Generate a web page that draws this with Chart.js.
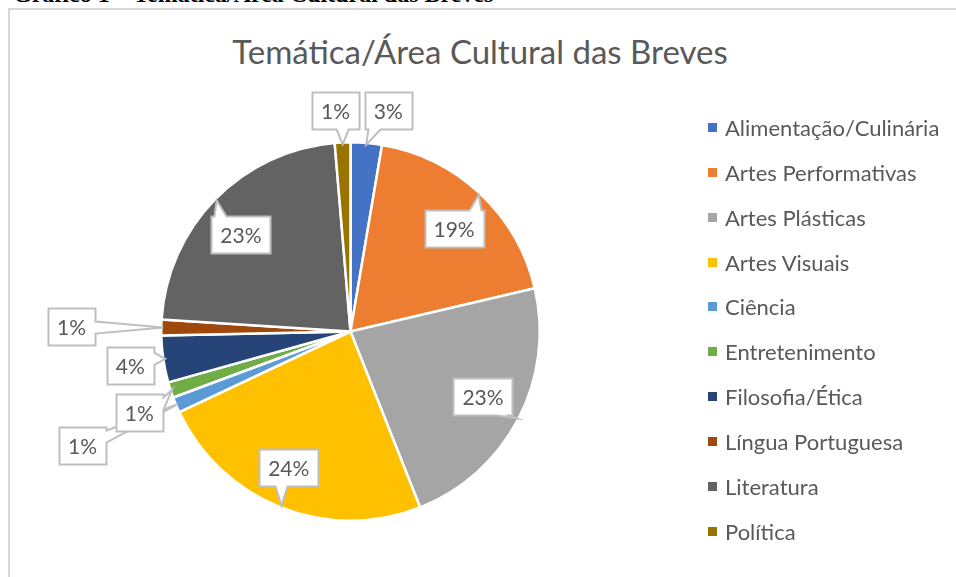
<!DOCTYPE html>
<html>
<head>
<meta charset="utf-8">
<script src="https://cdn.jsdelivr.net/npm/chart.js@4/dist/chart.umd.min.js"></script>
<style>
  html, body { margin: 0; padding: 0; background: #ffffff; width: 956px; height: 577px; overflow: hidden; position: relative; }
  body { font-variant-ligatures: none; font-feature-settings: "liga" 0, "clig" 0; }
  #caption { position: absolute; left: 13px; top: -18px; font: bold 24px "Liberation Serif", serif; line-height: 24px; color: #000; white-space: nowrap; }
  #frame { position: absolute; left: 8px; top: 8px; width: 1100px; height: 800px; border: 2px solid #d9d9d9; box-sizing: border-box; background: #fff; }
  #title { position: absolute; left: 0; width: 960px; top: 32px; text-align: center; font: 33px Lato, sans-serif; line-height: 1.2; color: #595959; white-space: nowrap; }
  #chart { position: absolute; left: 0; top: 0; }
  .lg { position: absolute; left: 708px; font: 22px Lato, sans-serif; line-height: 1.2; color: #595959; white-space: nowrap; }
  .lg i { position: absolute; left: 0; top: 8px; width: 9px; height: 9px; }
  .lg span { position: absolute; left: 17px; top: 0; }
</style>
</head>
<body>
<div id="caption">Gráfico 1 – Temática/Área Cultural das Breves</div>
<div id="frame"></div>
<div id="title">Temática/Área Cultural das Breves</div>
<canvas id="chart" width="956" height="577"></canvas>
<div id="legend"></div>
<script>
// ---- Data ----
const categories = [
  "Alimentação/Culinária",
  "Artes Performativas",
  "Artes Plásticas",
  "Artes Visuais",
  "Ciência",
  "Entretenimento",
  "Filosofia/Ética",
  "Língua Portuguesa",
  "Literatura",
  "Política"
];
const counts = [2, 14, 17, 18, 1, 1, 3, 1, 17, 1];

// ---- Styles ----
const sliceColors = ["#4472C4", "#ED7D31", "#A5A5A5", "#FFC000", "#5B9BD5", "#70AD47", "#264478", "#9E480E", "#636363", "#997300"];
// callout box centres relative to pie centre (in units where radius = 190)
const calloutOffsets = [
  [38, -222], [104, -103], [133, 65], [-62, 137], [-269, 114],
  [-212, 81], [-221, 34], [-280, -5], [-110, -97], [-15, -222]
];

const calloutPlugin = {
  id: 'callouts',
  afterDatasetsDraw(chart) {
    const ctx = chart.ctx;
    const meta = chart.getDatasetMeta(0);
    const data = chart.data.datasets[0].data;
    const total = data.reduce((a, b) => a + b, 0);
    ctx.save();
    ctx.font = '21px Lato, sans-serif';
    ctx.textAlign = 'center';
    ctx.textBaseline = 'middle';
    meta.data.forEach((arc, i) => {
      const p = arc.getProps(['x', 'y', 'startAngle', 'endAngle', 'outerRadius'], true);
      const mid = (p.startAngle + p.endAngle) / 2;
      const s = p.outerRadius / 190;
      const tipR = p.outerRadius * 0.99;
      const tx = p.x + Math.cos(mid) * tipR, ty = p.y + Math.sin(mid) * tipR;
      const cx = p.x + calloutOffsets[i][0] * s, cy = p.y + calloutOffsets[i][1] * s;
      const text = Math.round(data[i] / total * 100) + '%';
      const tw = ctx.measureText(text).width;
      const w = Math.round(tw + 18), h = 37;
      const l = Math.round(cx - w / 2) + 0.5, r = l + w, t = Math.round(cy - h / 2) + 0.5, b = t + h;
      const dx = tx - cx, dy = ty - cy;
      const bw = 12;
      const clamp = (v, a, z) => Math.max(a, Math.min(z, v));
      const pts = [];
      if (Math.abs(dx) / (w / 2) > Math.abs(dy) / (h / 2)) {
        const a = clamp(ty - bw / 2, t + 3, b - 3 - bw);
        if (dx > 0) {
          pts.push([l, t], [r, t], [r, a], [tx, ty], [r, a + bw], [r, b], [l, b]);
        } else {
          pts.push([l, t], [r, t], [r, b], [l, b], [l, a + bw], [tx, ty], [l, a]);
        }
      } else {
        const a = clamp(tx - bw / 2, l + 3, r - 3 - bw);
        if (dy < 0) {
          pts.push([l, t], [a, t], [tx, ty], [a + bw, t], [r, t], [r, b], [l, b]);
        } else {
          pts.push([l, t], [r, t], [r, b], [a + bw, b], [tx, ty], [a, b], [l, b]);
        }
      }
      ctx.beginPath();
      pts.forEach((q, k) => k ? ctx.lineTo(q[0], q[1]) : ctx.moveTo(q[0], q[1]));
      ctx.closePath();
      ctx.fillStyle = '#ffffff';
      ctx.fill();
      ctx.lineWidth = 2;
      ctx.strokeStyle = '#bfbfbf';
      ctx.lineJoin = 'miter';
      ctx.stroke();
      ctx.fillStyle = '#595959';
      ctx.fillText(text, cx, (t + b) / 2 + 1);
    });
    ctx.restore();
  }
};

new Chart(document.getElementById('chart'), {
  type: 'pie',
  data: {
    labels: categories,
    datasets: [{
      data: counts,
      backgroundColor: sliceColors,
      borderColor: '#ffffff',
      borderWidth: 2.5
    }]
  },
  options: {
    responsive: false,
    animation: false,
    layout: { padding: { left: 160, right: 415, top: 141, bottom: 55 } },
    plugins: { legend: { display: false }, tooltip: { enabled: false }, title: { display: false } }
  },
  plugins: [calloutPlugin]
});

// ---- Legend ----
const legend = document.getElementById('legend');
categories.forEach((name, i) => {
  const d = document.createElement('div');
  d.className = 'lg';
  d.style.top = (136.5 + i * 44.9 - 21.7) + 'px';
  const m = document.createElement('i');
  m.style.background = sliceColors[i];
  const sp = document.createElement('span');
  sp.textContent = name;
  d.appendChild(m); d.appendChild(sp);
  legend.appendChild(d);
});
</script>
</body>
</html>
